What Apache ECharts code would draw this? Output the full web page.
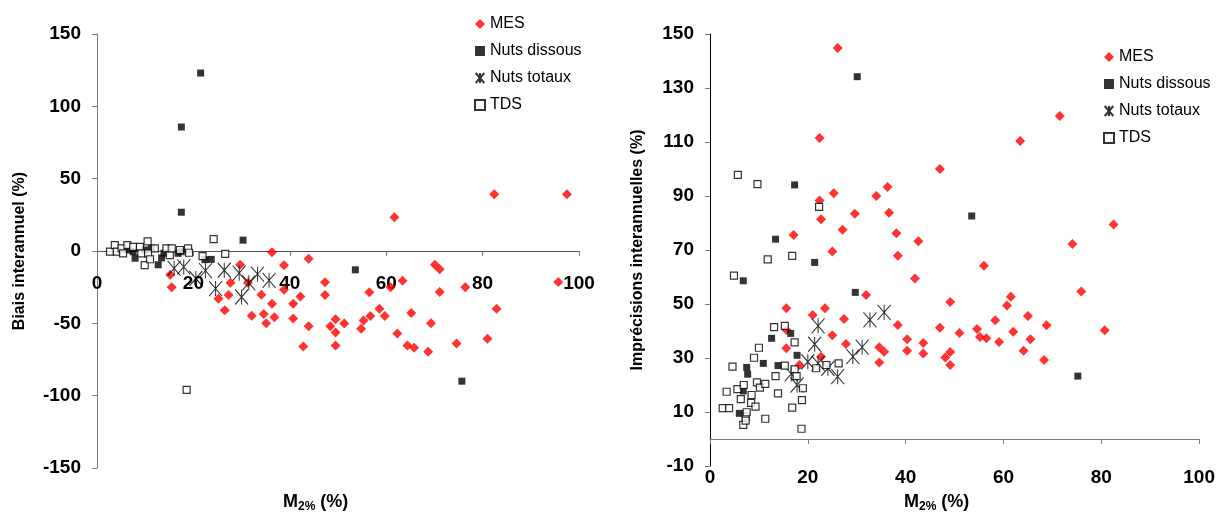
<!DOCTYPE html>
<html>
<head>
<meta charset="utf-8">
<script src="https://cdn.jsdelivr.net/npm/echarts@6/dist/echarts.min.js"></script>
<style>
html,body{margin:0;padding:0;background:#fff;}
#c{width:1218px;height:521px;}
</style>
</head>
<body>
<div id="c"></div>
<script>
// ---- Data ----
var seriesNames = ['MES', 'Nuts dissous', 'Nuts totaux', 'TDS'];

// Left chart: Biais interannuel (%) vs M2% (%)
var mesBias = [[15.5,-25],[15.2,-16.5],[25.2,-33],[26.5,-41],[27.3,-30.4],[27.7,-22],[29.7,-9.5],[31.3,-22],[32.1,-44.8],[34.1,-30.2],[34.6,-43.6],[35.1,-50],[36.3,-0.8],[36.3,-36.5],[36.8,-45.8],[38.8,-26.8],[38.8,-9.8],[40.7,-36.5],[40.7,-46.6],[42.2,-31.4],[42.8,-66],[43.9,-52],[43.9,-5.3],[47.3,-21.6],[47.3,-30.4],[48.4,-52],[49.5,-47.2],[49.5,-56.3],[49.5,-65.3],[51.3,-50.2],[54.8,-53.7],[55.3,-48.1],[56.5,-28.6],[56.7,-45],[58.6,-40],[59.7,-45],[60.9,-25.1],[61.7,23.4],[62.3,-57.1],[63.4,-20.5],[64.4,-65.3],[65.2,-42.8],[65.8,-66.9],[68.7,-69.6],[69.3,-50],[70.1,-9.5],[71.1,-12.7],[71.1,-28.4],[74.6,-64],[76.4,-25],[81,-60.6],[82.4,39.2],[82.9,-40],[95.7,-21.5],[97.5,39.2]];
var nutsDissBias = [[6.5,0.7],[7.5,-0.5],[7.9,-5],[9.9,0.7],[11.3,2],[12.7,-9.5],[13.4,-4.8],[13.9,-1.5],[16.8,-1.6],[17.5,-0.5],[17.5,26.8],[17.5,85.7],[21.5,123],[22.4,-6],[23.7,-5.8],[30.3,7.5],[53.6,-13],[75.7,-90]];
var nutsTotBias = [[16,-12],[18,-11],[20.5,-19],[22.5,-13.6],[24.6,-26],[26.4,-13.3],[29.5,-15.3],[30,-31.8],[31.5,-22],[33.3,-16],[35.7,-20.3]];
var tdsBias = [[2.7,-0.5],[3.7,4],[4.1,-0.5],[5.1,1.8],[5.4,-1.6],[6.3,4],[7.5,2.9],[8.9,2.9],[9.2,-1.6],[9.9,-9.8],[10.5,6.6],[10.6,-1.6],[11,-5.7],[12,1.8],[14.4,1.8],[15.1,-2.8],[15.5,1.8],[17.2,0.7],[18.6,-96],[18.9,1.8],[19.1,-1.2],[21.9,-3.5],[24.2,8.2],[26.6,-2]];

// Right chart: Imprécisions interannuelles (%) vs M2% (%)
var mesImp = [[15.6,48.4],[15.6,40.4],[15.6,33.6],[17.1,75.6],[18.3,27.4],[21,45.9],[22.4,111.5],[22.4,88.3],[22.7,81.4],[22.7,30.5],[23.5,48.4],[25,69.4],[25,38.4],[25.3,91],[26.1,144.8],[27.1,77.5],[27.4,44.4],[27.8,35.2],[29.6,83.4],[31.9,53.3],[34,90],[34.6,34],[34.6,28.3],[35.6,32.3],[36.3,93.3],[36.6,83.8],[38.1,76.2],[38.4,67.9],[38.4,42.2],[40.3,36.9],[40.3,32.7],[41.9,59.4],[42.6,73.2],[43.6,35.6],[43.6,31.7],[47,100],[47,41.2],[48.1,30.2],[49.1,50.7],[49.1,32.2],[49.1,27.4],[51,39.3],[54.6,40.7],[55.2,37.8],[56,64.2],[56.5,37.3],[58.3,44],[59.1,35.9],[60.7,49.4],[61.5,52.7],[62,39.7],[63.4,110.4],[64.1,32.7],[65,45.6],[65.5,36.9],[68.3,29.3],[68.8,42.1],[71.5,119.6],[74.1,72.2],[75.9,54.6],[80.7,40.3],[82.5,79.4]];
var nutsDissImp = [[6,9.5],[6.8,17.8],[6.8,58.6],[7.5,26.5],[7.7,24],[10.9,28],[12.6,37.3],[13.4,74],[13.9,27.2],[16.5,39.1],[17.3,94.1],[17.8,31],[21.4,65.4],[29.7,54.3],[30.1,134.2],[53.5,82.6],[75.2,23.3]];
var nutsTotImp = [[16.6,24.1],[17.8,20],[20,28.6],[21.4,35.1],[22.1,41.9],[22.1,28],[24.1,26.2],[26.1,23.1],[29.2,30.5],[31.1,34],[32.7,44.1],[35.6,46.9]];
var tdsImp = [[2.6,11.4],[3.4,17.5],[3.9,11.4],[4.6,26.8],[4.9,60.5],[5.6,18.5],[5.7,97.8],[6.3,14.8],[6.8,5.2],[6.9,20],[7.3,8.3],[7.3,6.8],[7.5,9.9],[8.4,13.4],[8.5,16.3],[9,30.1],[9.3,12],[9.6,21],[9.7,94.4],[10,33.8],[10.2,19],[11.3,20.4],[11.3,7.5],[11.8,66.5],[13.1,41.4],[13.4,23.3],[13.9,16.9],[15.3,41.9],[15.3,27.2],[16.8,67.8],[16.8,11.6],[17.3,35.8],[17.3,25.8],[17.7,23.3],[18.7,3.8],[18.8,14.4],[19,18.8],[21.7,26.2],[22.3,86],[23.8,27.4],[26.3,28]];

// ---- Styling ----
var FONT = 'Liberation Sans, Arial, Helvetica, sans-serif';
var STAR = 'path://M0,0L12,14M12,0L0,14M6,0L6,14';

var styles = {
  'MES': { symbol: 'diamond', symbolSize: 10, itemStyle: { color: '#ff0000' } },
  'Nuts dissous': { symbol: 'rect', symbolSize: 7, itemStyle: { color: '#000' } },
  'Nuts totaux': { symbol: STAR, symbolSize: [13, 15], itemStyle: { color: '#000', borderColor: '#000', borderWidth: 1.1 } },
  'TDS': { symbol: 'rect', symbolSize: 7, itemStyle: { color: '#fff', borderColor: '#000', borderWidth: 1.2 } }
};

function mk(name, data, idx) {
  var s = styles[name];
  return {
    type: 'scatter', name: name, data: data,
    xAxisIndex: idx, yAxisIndex: idx,
    symbol: s.symbol, symbolSize: s.symbolSize,
    itemStyle: s.itemStyle, silent: true, animation: false
  };
}

var tickLabel = { fontFamily: FONT, fontWeight: 'bold', fontSize: 19, color: '#000' };

function xAxisDef(idx, margin, lineColor, onZero, offset) {
  return {
    type: 'value', gridIndex: idx, min: 0, max: 100, interval: 20,
    position: 'bottom', offset: offset,
    axisLine: { onZero: onZero, lineStyle: { color: lineColor, width: 1 } },
    axisTick: { show: true, length: 5, lineStyle: { color: '#777' } },
    axisLabel: Object.assign({ margin: margin }, tickLabel),
    splitLine: { show: false }
  };
}

function yAxisDef(idx, min, max, interval, name, gap, lineColor) {
  return {
    type: 'value', gridIndex: idx, min: min, max: max, interval: interval,
    axisLine: { show: true, onZero: false, lineStyle: { color: lineColor, width: 1 } },
    axisTick: { show: true, length: 5, lineStyle: { color: '#777' } },
    axisLabel: Object.assign({ margin: 16 }, tickLabel),
    splitLine: { show: false },
    name: name, nameLocation: 'middle', nameRotate: 90, nameGap: gap, nameMoveOverlap: false,
    nameTextStyle: { fontFamily: FONT, fontWeight: 'bold', fontSize: 16, color: '#000' }
  };
}

function legendDef(left, top) {
  return {
    orient: 'vertical', left: left, top: top, itemGap: 9,
    itemWidth: 10, itemHeight: 10, selectedMode: false,
    textStyle: { fontFamily: FONT, fontSize: 16, color: '#000', lineHeight: 18 },
    data: [
      { name: 'MES', icon: 'diamond', itemStyle: { color: '#ff0000' } },
      { name: 'Nuts dissous', icon: 'rect' },
      { name: 'Nuts totaux', icon: STAR },
      { name: 'TDS', icon: 'rect' }
    ]
  };
}

function axisTitle(cx, cy) {
  return {
    type: 'text', left: cx - 31, top: cy - 12, silent: true,
    style: {
      text: '{m|M}{s|2%}{m| (%)}',
      rich: {
        m: { fontFamily: FONT, fontWeight: 'bold', fontSize: 18, color: '#000', lineHeight: 22 },
        s: { fontFamily: FONT, fontWeight: 'bold', fontSize: 12, color: '#000', lineHeight: 22, verticalAlign: 'bottom', padding: [7, 0, 0, 0] }
      }
    }
  };
}

var chart = echarts.init(document.getElementById('c'), null, { renderer: 'canvas' });
chart.setOption({
  backgroundColor: '#fff',
  animation: false,
  grid: [
    { left: 97, right: 1218 - 579, top: 34, bottom: 521 - 468, containLabel: false },
    { left: 710, right: 1218 - 1201, top: 34, bottom: 521 - 466, containLabel: false }
  ],
  xAxis: [ xAxisDef(0, 23, '#555', false, -217), xAxisDef(1, 2, '#777', true, 0) ],
  yAxis: [
    yAxisDef(0, -150, 150, 50, 'Biais interannuel (%)', 69, '#777'),
    yAxisDef(1, -10, 150, 20, 'Imprécisions interannuelles (%)', 64, '#000')
  ],
  legend: [ legendDef(469, 10), legendDef(1098, 43) ],
  graphic: [ axisTitle(314, 505), axisTitle(935, 505) ],
  series: [
    mk('MES', mesBias, 0), mk('Nuts dissous', nutsDissBias, 0), mk('Nuts totaux', nutsTotBias, 0), mk('TDS', tdsBias, 0),
    mk('MES', mesImp, 1), mk('Nuts dissous', nutsDissImp, 1), mk('Nuts totaux', nutsTotImp, 1), mk('TDS', tdsImp, 1)
  ]
});
</script>
</body>
</html>
